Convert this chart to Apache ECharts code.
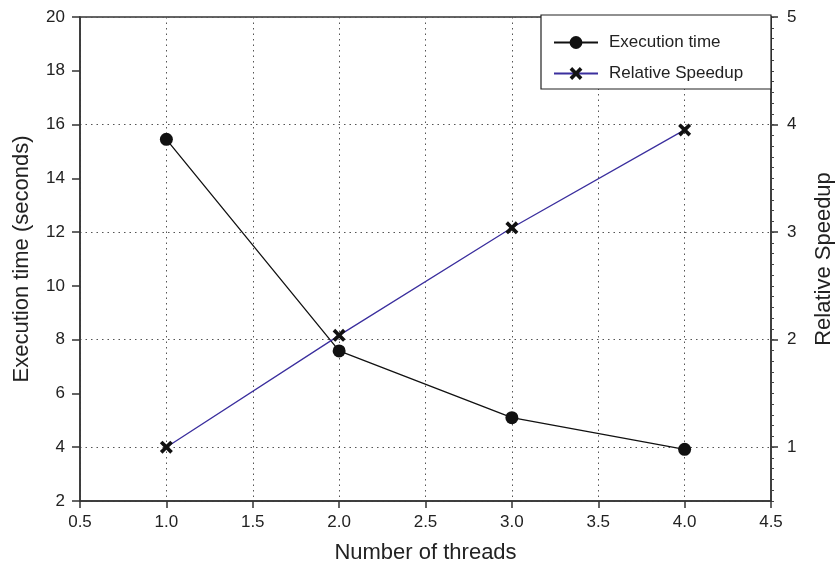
<!DOCTYPE html>
<html>
<head>
<meta charset="utf-8">
<script src="https://cdn.jsdelivr.net/npm/echarts@6/dist/echarts.min.js"></script>
<style>html,body{margin:0;padding:0;background:#fff}#c{width:837px;height:567px}</style>
</head>
<body>
<div id="c"></div>
<script>
var threads = [1, 2, 3, 4];
var execTime = [15.45, 7.58, 5.1, 3.92];
var speedup = [1.0, 2.04, 3.04, 3.95];
var seriesNames = ['Execution time', 'Relative Speedup'];

var FONT = '"Liberation Sans", Arial, sans-serif';
var chart = echarts.init(document.getElementById('c'));
var xPath = 'path://M2,0 L5,3 L8,0 L10,2 L7,5 L10,8 L8,10 L5,7 L2,10 L0,8 L3,5 L0,2 Z';
var dotted = { color: '#555', width: 1, type: [1.5, 4] };
var axisLineStyle = { color: '#333', width: 1.5 };

chart.setOption({
  animation: false,
  backgroundColor: '#fff',
  grid: { left: 80, right: 66, top: 17, bottom: 66, show: true, borderColor: '#333', borderWidth: 1.5, backgroundColor: 'transparent', containLabel: false, outerBoundsMode: 'none' },
  graphic: [{
    type: 'rect', z: 50,
    shape: { x: 541, y: 15, width: 230, height: 74 },
    style: { fill: '#fff', stroke: '#222', lineWidth: 1.2 }
  }],
  legend: {
    z: 60, orient: 'vertical', left: 553, top: 34, padding: 0, itemGap: 14,
    itemWidth: 44, itemHeight: 16,
    textStyle: { fontFamily: FONT, fontSize: 17, color: '#222', padding: [0, 0, 0, 6] },
    data: seriesNames
  },
  xAxis: {
    type: 'value', min: 0.5, max: 4.5, interval: 0.5,
    name: 'Number of threads', nameLocation: 'middle', nameGap: 41,
    nameTextStyle: { fontFamily: FONT, fontSize: 22, color: '#222' },
    axisLine: { lineStyle: axisLineStyle },
    axisTick: { show: true, length: 7, lineStyle: { color: '#333', width: 1.5 } },
    axisLabel: { fontFamily: FONT, fontSize: 17, color: '#222', margin: 13, formatter: function (v) { return v.toFixed(1); } },
    splitLine: { show: true, lineStyle: dotted }
  },
  yAxis: [{
    type: 'value', min: 2, max: 20, interval: 2, position: 'left',
    name: 'Execution time (seconds)', nameLocation: 'middle', nameGap: 47,
    nameTextStyle: { fontFamily: FONT, fontSize: 22, color: '#222' },
    axisLine: { show: true, lineStyle: axisLineStyle },
    axisTick: { show: true, length: 8, lineStyle: { color: '#333', width: 1.5 } },
    axisLabel: { fontFamily: FONT, fontSize: 17, color: '#222', margin: 15 },
    splitLine: { show: false }
  }, {
    type: 'value', min: 0.5, max: 5, splitNumber: 5, position: 'right',
    name: 'Relative Speedup', nameLocation: 'middle', nameGap: 42,
    nameTextStyle: { fontFamily: FONT, fontSize: 22, color: '#222' },
    axisLine: { show: true, lineStyle: axisLineStyle },
    axisTick: { show: true, length: 7, lineStyle: { color: '#333', width: 1.5 } },
    axisLabel: { fontFamily: FONT, fontSize: 17, color: '#222', margin: 16, showMinLabel: false },
    splitLine: { show: true, lineStyle: dotted }
  }, {
    type: 'value', min: 0.5, max: 5, interval: 0.1, position: 'right', offset: 0,
    axisLine: { show: false },
    axisTick: { show: true, inside: false, length: 3, lineStyle: { color: '#444', width: 1 } },
    axisLabel: { show: false },
    splitLine: { show: false }
  }],
  series: [{
    name: seriesNames[0], type: 'line', yAxisIndex: 0,
    data: threads.map(function (t, i) { return [t, execTime[i]]; }),
    symbol: 'circle', symbolSize: 13,
    lineStyle: { color: '#111', width: 1.3 },
    itemStyle: { color: '#111' }
  }, {
    name: seriesNames[1], type: 'line', yAxisIndex: 1,
    data: threads.map(function (t, i) { return [t, speedup[i]]; }),
    symbol: xPath, symbolSize: 13,
    lineStyle: { color: '#3b2f9e', width: 1.3 },
    itemStyle: { color: '#111' }
  }]
});
</script>
</body>
</html>
